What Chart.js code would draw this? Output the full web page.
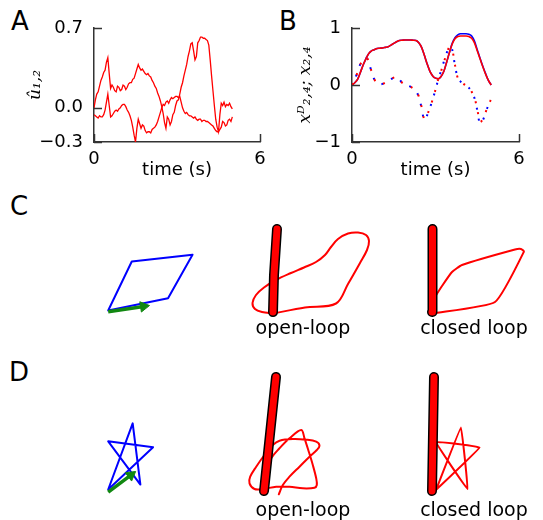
<!DOCTYPE html>
<html>
<head>
<meta charset="utf-8">
<script src="https://cdn.jsdelivr.net/npm/chart.js@4.4.0/dist/chart.umd.min.js"></script>
<style>
  html, body { margin: 0; padding: 0; background: #fff; }
  #fig { position: relative; width: 543px; height: 520px; overflow: hidden; font-family: "DejaVu Sans", sans-serif; color: #000; }
  #fig canvas { position: absolute; }
  .tag { position: absolute; font-size: 26px; line-height: 26px; }
  .cap { position: absolute; font-size: 19px; line-height: 19px; width: 140px; text-align: center; white-space: nowrap; }
</style>
</head>
<body>
<div id="fig">
  <div class="tag" style="left:11px;top:8px">A</div>
  <div class="tag" style="left:279px;top:8px">B</div>
  <div class="tag" style="left:10px;top:193px">C</div>
  <div class="tag" style="left:9px;top:359px">D</div>

  <canvas id="chartA" width="275" height="190" style="left:0;top:0"></canvas>
  <canvas id="chartB" width="273" height="190" style="left:270px;top:0"></canvas>

  <canvas id="cTarget" width="150" height="140" style="left:74px;top:191px"></canvas>
  <canvas id="cOpen" width="150" height="140" style="left:243px;top:187px"></canvas>
  <canvas id="cClosed" width="150" height="140" style="left:402px;top:187px"></canvas>
  <canvas id="dTarget" width="150" height="140" style="left:74px;top:370px"></canvas>
  <canvas id="dOpen" width="150" height="140" style="left:234px;top:366px"></canvas>
  <canvas id="dClosed" width="150" height="140" style="left:402px;top:366px"></canvas>

  <div class="cap" style="left:233px;top:318px">open-loop</div>
  <div class="cap" style="left:404px;top:318px">closed loop</div>
  <div class="cap" style="left:233px;top:500px">open-loop</div>
  <div class="cap" style="left:404px;top:500px">closed loop</div>
</div>
<script>
// — data —
// sample clocks (s): A is logged every 50 ms, B every 100 ms
const timesA = Array.from({ length: 101 }, (_, i) => i / 20);
const timesB = Array.from({ length: 51 }, (_, i) => i / 10);
const xTicks = [0, 6];

// A: the two commands
const uTicks = [-0.3, 0.0, 0.7];
const u1 = [
  0.00, 0.07, 0.12, 0.14, 0.19, 0.24, 0.27, 0.31, 0.33, 0.40,
  0.44, 0.30, 0.17, 0.20, 0.18, 0.15, 0.14, 0.19, 0.18, 0.15,
  0.16, 0.20, 0.19, 0.16, 0.18, 0.21, 0.22, 0.22, 0.25, 0.26,
  0.30, 0.34, 0.38, 0.35, 0.33, 0.34, 0.32, 0.30, 0.29, 0.30,
  0.28, 0.27, 0.24, 0.22, 0.19, 0.17, 0.13, 0.10, 0.06, 0.01,
  -0.05, -0.13, -0.18, -0.08, -0.10, -0.15, -0.12, -0.06, -0.04, 0.02,
  0.06, 0.07, 0.12, 0.18, 0.22, 0.28, 0.33, 0.38, 0.45, 0.50,
  0.56, 0.57, 0.50, 0.42, 0.45, 0.57, 0.59, 0.62, 0.62, 0.61,
  0.61, 0.60, 0.59, 0.55, 0.42, 0.28, 0.15, 0.02, -0.10, -0.17,
  -0.21, -0.06, 0.04, 0.02, 0.05, 0.01, 0.03, 0.02, 0.04, 0.01,
  -0.01];
const u2 = [
  -0.06, -0.07, -0.08, -0.09, -0.07, -0.08, -0.08, -0.06, -0.02, 0.05,
  0.12, 0.02, -0.08, -0.07, -0.05, -0.03, -0.02, -0.03, -0.01, 0.00,
  0.02, 0.03, 0.03, 0.01, -0.02, -0.04, -0.07, -0.11, -0.17, -0.24,
  -0.30, -0.18, -0.10, -0.14, -0.18, -0.15, -0.16, -0.20, -0.22, -0.21,
  -0.21, -0.22, -0.19, -0.18, -0.17, -0.15, -0.12, -0.08, -0.04, 0.00,
  0.03, 0.02, 0.05, 0.06, 0.04, 0.07, 0.09, 0.08, 0.09, 0.10,
  0.10, 0.09, 0.10, 0.05, 0.00, -0.03, -0.05, -0.04, -0.06, -0.07,
  -0.07, -0.08, -0.09, -0.08, -0.10, -0.11, -0.10, -0.10, -0.12, -0.11,
  -0.11, -0.12, -0.12, -0.13, -0.14, -0.15, -0.16, -0.18, -0.20, -0.21,
  -0.21, -0.19, -0.17, -0.12, -0.13, -0.16, -0.15, -0.11, -0.10, -0.12,
  -0.08];

// B: desired (blue) and actual (red) states
const xTicksB = [-1, 0, 1];
const x2Desired = [0, 0.04, 0.1, 0.22, 0.35, 0.46, 0.55, 0.6, 0.62, 0.64, 0.645, 0.65, 0.66, 0.67, 0.7, 0.73, 0.76,
  0.78, 0.785, 0.79, 0.79, 0.79, 0.785, 0.78, 0.74, 0.66, 0.52, 0.37, 0.24, 0.16, 0.12, 0.11, 0.15, 0.24, 0.4,
  0.57, 0.73, 0.83, 0.88, 0.9, 0.9, 0.9, 0.89, 0.86, 0.77, 0.62, 0.47, 0.33, 0.2, 0.08, 0];
const x2 = [0, 0.04, 0.1, 0.22, 0.35, 0.46, 0.55, 0.6, 0.62, 0.64, 0.645, 0.65, 0.66, 0.67, 0.7, 0.73, 0.76,
  0.78, 0.785, 0.79, 0.79, 0.79, 0.785, 0.78, 0.74, 0.66, 0.52, 0.37, 0.24, 0.16, 0.12, 0.11, 0.15, 0.24, 0.4,
  0.57, 0.72, 0.81, 0.85, 0.86, 0.86, 0.86, 0.85, 0.82, 0.74, 0.6, 0.46, 0.32, 0.19, 0.08, 0];
const x4Desired = [0, 0.1, 0.23, 0.37, 0.46, 0.48, 0.41, 0.23, 0.1, 0.04, 0.01, 0.02, 0.04, 0.06, 0.1, 0.13, 0.14,
  0.1, 0.04, 0.01, -0.01, -0.03, -0.06, -0.11, -0.21, -0.4, -0.62, -0.53, -0.4, -0.25, -0.08, 0.1, 0.25, 0.41,
  0.56, 0.67, 0.62, 0.34, 0.12, 0.06, 0.02, -0.01, -0.05, -0.12, -0.23, -0.44, -0.68, -0.62, -0.49, -0.35, -0.26];
const x4 = [0, 0.1, 0.22, 0.36, 0.45, 0.48, 0.42, 0.24, 0.1, 0.04, 0.01, 0.02, 0.04, 0.06, 0.1, 0.13, 0.14,
  0.1, 0.04, 0.01, -0.01, -0.03, -0.06, -0.1, -0.2, -0.38, -0.6, -0.52, -0.4, -0.25, -0.08, 0.1, 0.24, 0.4,
  0.55, 0.66, 0.62, 0.35, 0.12, 0.06, 0.02, -0.01, -0.05, -0.12, -0.22, -0.42, -0.65, -0.6, -0.48, -0.35, -0.25];

// C, D: hand paths in workspace units, origin at start point / arm base
const cTarget = [[0, 0], [6.6, 1.35], [9.3, 6.2], [2.6, 5.45], [0, 0]];
const cArrow = [[0, -0.15], [3.9, 0.45]];
const cOpenArm = [[0, 0], [0.1, 3.7], [0.4, 8.3]];
const cOpenPath = [[0, -0.15], [3.2, 0.45], [6.3, 0.85], [7.5, 2.8], [8.7, 4.9], [9.4, 6.2], [9.6, 7.1], [9.3, 7.7],
  [8.5, 7.95], [7.5, 7.85], [6.5, 7.3], [5.8, 6.5], [5.2, 5.7], [4.3, 5.0], [3.1, 4.45], [1.8, 3.9], [0.3, 3.2],
  [-0.9, 2.45], [-1.7, 1.7], [-2.05, 0.9], [-1.8, 0.3], [-1.1, 0.0], [0, -0.15]];
const cClosedArm = [[0, 0], [0.05, 8.3]];
const cClosedPath = [[0.1, -0.15], [6.3, 1.0], [9.2, 6.05], [8.9, 6.3], [8.3, 6.25], [3.0, 4.7], [2.0, 4.0],
  [1.0, 2.6], [0.1, 1.2]];

const dTarget = [[0, 0], [2.7, 7.35], [3.55, 0.55], [0, 5.35], [4.95, 4.7], [0, 0]];
const dArrow = [[0, -0.3], [2.5, 1.6]];
const dOpenArm = [[0, 0], [1.2, 11.4]];
const dOpenPath = [[-0.12, -0.13], [0.22, 1.77], [0.72, 3.27], [1.55, 4.27], [2.55, 5.27], [3.72, 6.1], [4.05, 5.27],
  [4.48, 3.93], [4.88, 2.6], [5.22, 1.27], [5.28, 0.6], [5.05, 0.33], [3.88, 0.27], [2.55, 0.43], [1.22, 0.43],
  [-0.12, 0.2], [-0.95, 0.2], [-1.45, 0.77], [-1.38, 1.43], [-0.78, 2.43], [0.05, 3.6], [0.88, 4.6], [1.55, 5.03],
  [2.88, 5.2], [4.22, 5.13], [5.22, 4.93], [5.55, 4.53], [5.28, 4.1], [4.55, 3.43], [3.55, 2.43], [2.55, 1.43],
  [1.88, 0.6], [1.48, -0.33]];
const dClosedArm = [[0, 0], [0.2, 11.4]];
const dClosedPath = [[0.4, 0.1], [2.9, 6.35], [3.55, 0.2], [0.4, 4.9], [4.75, 4.35], [0.4, 0.1]];

// — styles —
const AXIS = '#333';
const RED = '#ff0000';
const BLUE = '#0000ff';
const GREEN = '#118811';
const TICK_FONT = { family: 'DejaVu Sans', size: 18 };

// inward tick marks (matplotlib style)
const inwardTicks = {
  id: 'inwardTicks',
  afterDraw(chart) {
    const { ctx, chartArea: a, scales } = chart;
    ctx.save();
    ctx.strokeStyle = AXIS;
    ctx.lineWidth = 1.5;
    scales.y.ticks.forEach(t => {
      const y = Math.round(scales.y.getPixelForValue(t.value)) + 0.5;
      ctx.beginPath(); ctx.moveTo(a.left, y); ctx.lineTo(a.left + 8, y); ctx.stroke();
    });
    scales.x.ticks.forEach(t => {
      const x = Math.round(scales.x.getPixelForValue(t.value)) + 0.5;
      ctx.beginPath(); ctx.moveTo(x, a.bottom); ctx.lineTo(x, a.bottom - 8); ctx.stroke();
    });
    ctx.restore();
  }
};

const series = (ts, ys) => ys.map((y, i) => ({ x: ts[i], y }));
const fmtMinus = v => String(v).replace('-', '\u2212');

function timeChart(id, cfg) {
  return new Chart(document.getElementById(id), {
    type: 'line',
    data: { datasets: cfg.datasets },
    plugins: [inwardTicks],
    options: {
      responsive: false,
      animation: false,
      events: [],
      layout: { padding: { top: 28, right: cfg.padRight, left: 0, bottom: 0 } },
      plugins: { legend: { display: false }, tooltip: { enabled: false } },
      elements: { point: { radius: 0 } },
      scales: {
        x: {
          type: 'linear', min: 0, max: 6,
          afterBuildTicks: s => { s.ticks = xTicks.map(v => ({ value: v })); },
          afterFit: s => { s.height = 48; },
          grid: { drawOnChartArea: false, drawTicks: false },
          border: { color: AXIS, width: 1.5 },
          ticks: { font: TICK_FONT, color: '#000', padding: 7, autoSkip: false, maxRotation: 0 },
          title: { display: true, text: 'time (s)', color: '#000', font: { family: 'DejaVu Sans', size: 18 },
                   padding: { top: 0, bottom: 9 } }
        },
        y: {
          type: 'linear', min: cfg.yTicks[0], max: cfg.yTicks[cfg.yTicks.length - 1],
          afterBuildTicks: s => { s.ticks = cfg.yTicks.map(v => ({ value: v })); },
          afterFit: s => { s.width = cfg.yWidth; },
          grid: { drawOnChartArea: false, drawTicks: false },
          border: { color: AXIS, width: 1.5 },
          ticks: { font: TICK_FONT, color: '#000', padding: 11, autoSkip: false, callback: cfg.yFmt },
          title: { display: true, text: cfg.yTitle, color: '#000',
                   font: { family: 'DejaVu Serif', style: 'italic', size: 17 }, padding: { top: 25, bottom: 0 } }
        }
      }
    }
  });
}

timeChart('chartA', {
  padRight: 15, yWidth: 94, yTicks: uTicks, yTitle: 'û\u2081,\u2082',
  yFmt: v => fmtMinus(v.toFixed(1)),
  datasets: [
    { data: series(timesA, u1), borderColor: RED, borderWidth: 1.3, tension: 0 },
    { data: series(timesA, u2), borderColor: RED, borderWidth: 1.3, tension: 0 }
  ]
});

timeChart('chartB', {
  padRight: 24, yWidth: 82, yTicks: xTicksB, yTitle: 'x\u1D30\u2082,\u2084; x\u2082,\u2084',
  yFmt: v => fmtMinus(v),
  datasets: [
    { data: series(timesB, x2), borderColor: RED, borderWidth: 1.6, cubicInterpolationMode: 'monotone' },
    { data: series(timesB, x4), borderColor: RED, borderWidth: 2, borderDash: [2, 9], borderDashOffset: 0,
      cubicInterpolationMode: 'monotone' },
    { data: series(timesB, x2Desired), borderColor: BLUE, borderWidth: 1.6, cubicInterpolationMode: 'monotone' },
    { data: series(timesB, x4Desired), borderColor: BLUE, borderWidth: 2, borderDash: [2, 9], borderDashOffset: 1.5,
      cubicInterpolationMode: 'monotone' }
  ]
});

// — C / D drawings —
const pts = arr => arr.map(([x, y]) => ({ x, y }));
const path = (arr, color, width, tension) => ({
  data: pts(arr), showLine: true, borderColor: color, borderWidth: width, tension,
  pointRadius: 0, clip: false, borderCapStyle: 'round', borderJoinStyle: 'round'
});
const arm = arr => [path(arr, RED, 7, 0), path(arr, '#000', 10, 0)];
function arrow(arr) {
  const [[x0, y0], [x1, y1]] = arr;
  const rot = Math.atan2(x1 - x0, y1 - y0) * 180 / Math.PI;
  return {
    ...path(arr, GREEN, 3.5, 0), borderCapStyle: 'butt',
    pointRadius: [0, 6], pointStyle: 'triangle', pointRotation: rot,
    pointBackgroundColor: GREEN, pointBorderColor: GREEN, pointBorderWidth: 1
  };
}

function drawing(id, datasets) {
  new Chart(document.getElementById(id), {
    type: 'scatter',
    data: { datasets },
    options: {
      responsive: false, animation: false, events: [],
      layout: { padding: 0 },
      plugins: { legend: { display: false }, tooltip: { enabled: false } },
      scales: {
        x: { display: false, min: -3, max: 12 },
        y: { display: false, min: -1.5, max: 12.5 }
      }
    }
  });
}

drawing('cTarget', [arrow(cArrow), path(cTarget, BLUE, 2, 0)]);
drawing('cOpen', [...arm(cOpenArm), path(cOpenPath, RED, 2, 0.35)]);
drawing('cClosed', [...arm(cClosedArm), path(cClosedPath, RED, 2, 0.15)]);
drawing('dTarget', [arrow(dArrow), path(dTarget, BLUE, 2, 0)]);
drawing('dOpen', [...arm(dOpenArm), path(dOpenPath, RED, 2, 0.35)]);
drawing('dClosed', [...arm(dClosedArm), path(dClosedPath, RED, 2, 0.05)]);
</script>
</body>
</html>
